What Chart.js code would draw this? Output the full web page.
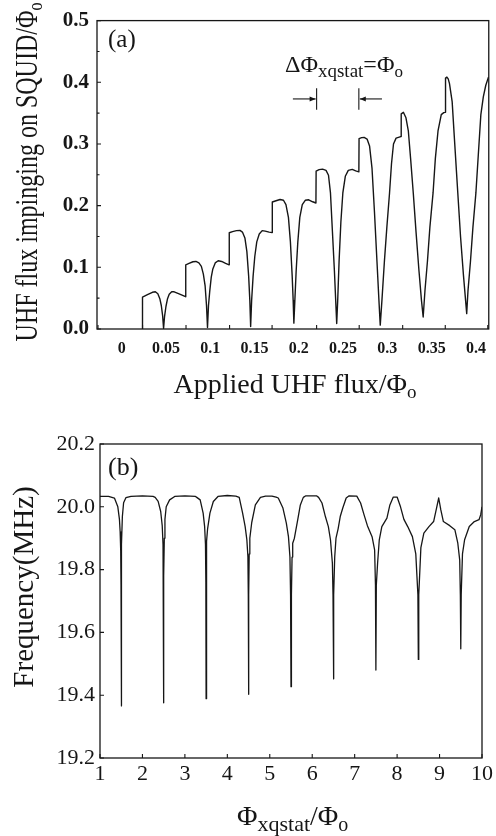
<!DOCTYPE html>
<html><head><meta charset="utf-8">
<script src="https://cdn.jsdelivr.net/npm/chart.js@4.4.1/dist/chart.umd.min.js"></script>
<style>
html,body{margin:0;padding:0;background:#fff;}
#wrap{position:relative;width:496px;height:836px;overflow:hidden;background:#fff;}
canvas{position:absolute;left:0;}
#c1{top:0;} #c2{top:420px;}
</style></head><body>
<div id="wrap"><canvas id="c1" width="496" height="420"></canvas><canvas id="c2" width="496" height="416"></canvas></div>
<script>
// ---------- DATA: panel (a) ----------
const fluxApplied = [
0.02340,0.02346,0.02905,0.03464,0.03799,0.04078,0.04302,0.04469,0.04615,0.04726,
0.04838,0.04994,0.05173,0.05363,0.05642,0.05922,0.06480,0.07207,
0.07229,0.07598,0.08045,0.08380,0.08715,0.08994,0.09218,0.09419,0.09575,0.09687,
0.09799,0.09944,0.10112,0.10279,0.10559,0.10894,0.11285,0.11732,0.12123,
0.12145,0.12514,0.12961,0.13352,0.13631,0.13911,0.14134,0.14335,0.14469,0.14559,
0.14670,0.14838,0.15028,0.15251,0.15531,0.15866,0.16201,0.16648,0.16983,
0.17006,0.17430,0.17877,0.18268,0.18547,0.18827,0.19050,0.19251,0.19363,0.19441,
0.19553,0.19698,0.19888,0.20112,0.20391,0.20726,0.21117,0.21564,0.21933,
0.21955,0.22291,0.22682,0.23073,0.23352,0.23575,0.23799,0.24022,0.24190,0.24279,
0.24391,0.24547,0.24749,0.24972,0.25251,0.25587,0.26034,0.26425,0.26782,
0.26804,0.27095,0.27374,0.27709,0.27989,0.28268,0.28547,0.28827,0.29050,0.29196,
0.29385,0.29665,0.29944,0.30246,0.30469,0.30693,0.30983,0.31430,0.31542,
0.31564,0.31810,0.32101,0.32369,0.32626,0.32927,0.33240,0.33575,0.33855,0.34045,
0.34246,0.34525,0.34804,0.35162,0.35419,0.35721,0.36089,0.36369,0.36536,
0.36570,0.36726,0.36872,0.37017,0.37318,0.37542,0.37955,0.38268,0.38603,0.38961,
0.39106,0.39385,0.39665,0.40000,0.40279,0.40559,0.40838,0.41117,0.41419
];
const fluxImpinging = [
0,0.0516,0.0556,0.0595,0.0603,0.0571,0.0492,0.0381,0.0222,0.0008,
0.0206,0.0365,0.0492,0.0563,0.0603,0.0603,0.0571,0.0524,
0.1040,0.1063,0.1090,0.1095,0.1071,0.1016,0.0889,0.0698,0.0381,0.0024,
0.0381,0.0619,0.0841,0.0968,0.1071,0.1106,0.1095,0.1063,0.1040,
0.1560,0.1579,0.1595,0.1598,0.1571,0.1476,0.1254,0.0857,0.0460,0.0040,
0.0460,0.0857,0.1175,0.1413,0.1540,0.1595,0.1587,0.1571,0.1563,
0.2059,0.2079,0.2100,0.2087,0.2016,0.1810,0.1413,0.0857,0.0460,0.0095,
0.0460,0.0937,0.1413,0.1810,0.2016,0.2087,0.2095,0.2063,0.2043,
0.2560,0.2583,0.2592,0.2571,0.2492,0.2206,0.1571,0.0937,0.0381,0.0090,
0.0460,0.1095,0.1730,0.2206,0.2476,0.2571,0.2587,0.2563,0.2548,
0.3087,0.3103,0.3106,0.3079,0.2968,0.2603,0.1889,0.1095,0.0460,0.0063,
0.0460,0.1095,0.1651,0.2206,0.2683,0.3000,0.3095,0.3116,0.3119,
0.3487,0.3513,0.3424,0.3211,0.2762,0.2206,0.1571,0.0937,0.0460,0.0195,
0.0619,0.1095,0.1651,0.2206,0.2762,0.3211,0.3476,0.3508,0.3513,
0.4068,0.4084,0.4056,0.3979,0.3687,0.3159,0.2206,0.1492,0.0857,0.0249,
0.0619,0.1095,0.1651,0.2206,0.2841,0.3476,0.3762,0.3952,0.4084
];
const topXLabels = [0, 0.05, 0.1, 0.15, 0.2, 0.25, 0.3, 0.35, 0.4];
const topXMarks = [-0.0268, 0.0235, 0.0726, 0.1218, 0.1698, 0.2201, 0.2682, 0.3173, 0.3654, 0.4134];
const topYLabels = [0, 0.1, 0.2, 0.3, 0.4, 0.5];
const topYMinor = [0.05, 0.15, 0.25, 0.35, 0.45];

// ---------- DATA: panel (b) ----------
const phiStat = [
1.00,1.20,1.34,1.42,1.458,1.475,1.488,1.495,1.500,1.505,1.512,1.527,1.556,1.610,1.730,
2.000,2.250,2.300,2.370,2.430,2.466,2.485,2.494,2.500,2.506,2.515,2.530,2.560,2.640,2.760,
3.000,3.250,3.280,3.360,3.430,3.465,3.485,3.494,3.500,3.506,3.515,3.535,3.590,3.670,3.780,
4.000,4.200,4.280,4.360,4.420,4.460,4.485,4.494,4.500,4.506,4.515,4.530,4.575,4.660,4.780,
4.900,5.050,5.150,5.200,5.310,5.390,5.440,5.475,5.490,5.500,5.510,5.525,5.540,5.580,5.660,5.720,5.790,
5.850,6.100,6.150,6.230,6.310,6.380,6.430,6.475,6.490,6.500,6.510,6.530,6.560,6.610,6.660,6.720,6.800,
6.870,7.050,7.140,7.220,7.300,7.410,7.470,7.490,7.500,7.510,7.540,7.580,7.640,7.760,7.830,7.910,
8.000,8.080,8.160,8.250,8.360,8.440,8.490,8.500,8.510,8.560,8.630,8.750,8.860,8.920,8.980,9.030,9.090,
9.240,9.360,9.430,9.475,9.490,9.500,9.510,9.540,9.590,9.700,9.820,9.930,9.970,10.000
];
const frequency = [
20.033,20.033,20.028,20.000,19.960,19.920,19.860,19.750,19.366,19.750,19.880,19.969,20.013,20.029,20.033,
20.035,20.033,20.030,20.017,19.985,19.940,19.880,19.780,19.376,19.780,19.900,19.960,20.000,20.022,20.033,
20.035,20.033,20.030,20.022,19.980,19.937,19.880,19.760,19.389,19.760,19.890,19.930,19.980,20.017,20.033,
20.036,20.034,20.030,19.980,19.937,19.895,19.840,19.720,19.403,19.720,19.850,19.900,19.950,20.006,20.030,
20.034,20.034,20.031,20.028,19.996,19.948,19.905,19.840,19.720,19.427,19.720,19.840,19.884,19.900,19.960,20.006,20.030,
20.035,20.035,20.030,20.012,19.969,19.937,19.895,19.820,19.720,19.452,19.720,19.840,19.900,19.930,19.969,19.996,20.028,
20.035,20.034,20.012,19.975,19.940,19.905,19.863,19.750,19.480,19.750,19.820,19.895,19.937,19.964,20.006,20.031,
20.031,20.000,19.960,19.937,19.905,19.850,19.720,19.514,19.720,19.870,19.916,19.937,19.953,19.990,20.028,19.990,19.953,
19.940,19.927,19.884,19.830,19.720,19.548,19.720,19.850,19.895,19.937,19.953,19.959,19.975,20.000
];
const botXLabels = [1,2,3,4,5,6,7,8,9,10];
const botYLabels = [19.2, 19.4, 19.6, 19.8, 20.0, 20.2];

// ---------- helpers ----------
const SERIF = '"Liberation Serif", "Times New Roman", serif';
const INK = '#161616';

function richText(chart, ctx, t) {
  let x = t.x, y = t.y;
  if (t.data) { x = chart.scales.x.getPixelForValue(t.x); y = chart.scales.y.getPixelForValue(t.y); }
  ctx.save();
  ctx.translate(x, y);
  if (t.rotate) ctx.rotate(t.rotate);
  ctx.scale(t.sx || 1, t.sy || 1);
  let total = 0;
  const fonts = t.runs.map(r => (r.weight || 'normal') + ' ' + r.size + 'px ' + SERIF);
  const widths = t.runs.map((r, i) => { ctx.font = fonts[i]; return ctx.measureText(r.text).width; });
  widths.forEach(w => total += w);
  let cx = t.align === 'center' ? -total / 2 : 0;
  ctx.fillStyle = INK; ctx.textBaseline = 'alphabetic'; ctx.textAlign = 'left';
  t.runs.forEach((r, i) => { ctx.font = fonts[i]; ctx.fillText(r.text, cx, r.dy || 0); cx += widths[i]; });
  ctx.restore();
}

const decor = {
  id: 'decor',
  afterDatasetsDraw(chart, args, o) {
    const ctx = chart.ctx, a = chart.chartArea, sx = chart.scales.x, sy = chart.scales.y;
    ctx.save();
    ctx.strokeStyle = INK; ctx.lineWidth = o.frameWidth;
    ctx.strokeRect(a.left, a.top, a.right - a.left, a.bottom - a.top);
    ctx.lineWidth = 1.1;
    ctx.beginPath();
    (o.xMarks || []).forEach(v => { const p = sx.getPixelForValue(v); ctx.moveTo(p, a.bottom); ctx.lineTo(p, a.bottom - o.majorLen); });
    (o.yMarks || []).forEach(v => { const p = sy.getPixelForValue(v); ctx.moveTo(a.left, p); ctx.lineTo(a.left + o.majorLen, p); });
    (o.yMinor || []).forEach(v => { const p = sy.getPixelForValue(v); ctx.moveTo(a.left, p); ctx.lineTo(a.left + o.minorLen, p); });
    ctx.stroke();
    ctx.fillStyle = INK;
    (o.bars || []).forEach(b => {
      const p = sx.getPixelForValue(b.x);
      ctx.beginPath(); ctx.moveTo(p, sy.getPixelForValue(b.y1)); ctx.lineTo(p, sy.getPixelForValue(b.y2)); ctx.stroke();
    });
    (o.arrows || []).forEach(ar => {
      const x1 = sx.getPixelForValue(ar.x1), x2 = sx.getPixelForValue(ar.x2), py = sy.getPixelForValue(ar.y);
      const dir = Math.sign(x2 - x1);
      ctx.beginPath(); ctx.moveTo(x1, py); ctx.lineTo(x2, py); ctx.stroke();
      ctx.beginPath(); ctx.moveTo(x2, py); ctx.lineTo(x2 - dir * 6, py - 2.5); ctx.lineTo(x2 - dir * 6, py + 2.5); ctx.closePath(); ctx.fill();
    });
    (o.texts || []).forEach(t => richText(chart, ctx, t));
    ctx.restore();
  }
};

function pts(xs, ys) { return xs.map((x, i) => ({ x: x, y: ys[i] })); }

// ---------- panel (a) ----------
new Chart(document.getElementById('c1'), {
  type: 'scatter',
  data: { datasets: [{ data: pts(fluxApplied, fluxImpinging), showLine: true, pointRadius: 0,
    borderColor: INK, borderWidth: 1.4, tension: 0, borderJoinStyle: 'round' }] },
  options: {
    responsive: false, animation: false, devicePixelRatio: 1, events: [],
    layout: { padding: { left: 0, right: 3, top: 14, bottom: 0 } },
    plugins: {
      legend: { display: false }, tooltip: { enabled: false },
      decor: {
        frameWidth: 1.3, majorLen: 4, minorLen: 2.5,
        xMarks: topXMarks, yMarks: topYLabels, yMinor: topYMinor,
        bars: [{ x: 0.2201, y1: 0.3905, y2: 0.3556 }, { x: 0.2678, y1: 0.3905, y2: 0.3556 }],
        arrows: [{ x1: 0.1933, x2: 0.2190, y: 0.3730 }, { x1: 0.2939, x2: 0.2689, y: 0.3730 }],
        texts: [
          { x: 108, y: 47, runs: [{ text: '(a)', size: 25 }] },
          { data: true, x: 0.1844, y: 0.4159, runs: [
            { text: 'ΔΦ', size: 24 }, { text: 'xqstat', size: 19, dy: 5 },
            { text: '=Φ', size: 24 }, { text: 'o', size: 17, dy: 5 }] },
          { x: 295, y: 393, align: 'center', runs: [{ text: 'Applied UHF flux/Φ', size: 28 }, { text: 'o', size: 19, dy: 5 }] },
          { x: 37, y: 172, align: 'center', rotate: -Math.PI / 2, sy: 1.3,
            runs: [{ text: 'UHF flux impinging on SQUID/Φ', size: 24 }, { text: 'o', size: 16, dy: 4 }] }
        ]
      }
    },
    scales: {
      x: {
        type: 'linear', min: -0.02793, max: 0.41453,
        grid: { display: false, drawTicks: false }, border: { display: false },
        afterBuildTicks: s => { s.ticks = topXLabels.map(v => ({ value: v })); },
        afterFit: s => { s.height = 91; },
        ticks: { autoSkip: false, maxRotation: 0, padding: 10, color: INK,
          font: { family: SERIF, size: 16, weight: 'bold' },
          callback: v => String(Number(v.toFixed(2))) }
      },
      y: {
        type: 'linear', min: 0, max: 0.5,
        grid: { display: false, drawTicks: false }, border: { display: false },
        afterBuildTicks: s => { s.ticks = topYLabels.map(v => ({ value: v })); },
        afterFit: s => { s.width = 97; },
        ticks: { autoSkip: false, padding: 8, color: INK,
          font: { family: SERIF, size: 21, weight: 'bold' },
          callback: v => v.toFixed(1) }
      }
    }
  },
  plugins: [decor]
});

// ---------- panel (b) ----------
new Chart(document.getElementById('c2'), {
  type: 'scatter',
  data: { datasets: [{ data: pts(phiStat, frequency), showLine: true, pointRadius: 0,
    borderColor: INK, borderWidth: 1.3, tension: 0, borderJoinStyle: 'round' }] },
  options: {
    responsive: false, animation: false, devicePixelRatio: 1, events: [],
    layout: { padding: { left: 0, right: 3, top: 24, bottom: 0 } },
    plugins: {
      legend: { display: false }, tooltip: { enabled: false },
      decor: {
        frameWidth: 1.3, majorLen: 4, minorLen: 2.5,
        xMarks: botXLabels, yMarks: botYLabels,
        texts: [
          { x: 108, y: 55, runs: [{ text: '(b)', size: 26 }] },
          { x: 237, y: 405, runs: [
            { text: 'Φ', size: 28 }, { text: 'xqstat', size: 22, dy: 6 },
            { text: '/Φ', size: 28 }, { text: 'o', size: 20, dy: 6 }] },
          { x: 33, y: 167, align: 'center', rotate: -Math.PI / 2,
            runs: [{ text: 'Frequency(MHz)', size: 29 }] }
        ]
      }
    },
    scales: {
      x: {
        type: 'linear', min: 1, max: 10,
        grid: { display: false, drawTicks: false }, border: { display: false },
        afterBuildTicks: s => { s.ticks = botXLabels.map(v => ({ value: v })); },
        afterFit: s => { s.height = 78; },
        ticks: { autoSkip: false, maxRotation: 0, padding: 3, color: INK,
          font: { family: SERIF, size: 22 }, callback: v => String(v) }
      },
      y: {
        type: 'linear', min: 19.2, max: 20.2,
        grid: { display: false, drawTicks: false }, border: { display: false },
        afterBuildTicks: s => { s.ticks = botYLabels.map(v => ({ value: v })); },
        afterFit: s => { s.width = 100; },
        ticks: { autoSkip: false, padding: 5, color: INK,
          font: { family: SERIF, size: 22 }, callback: v => v.toFixed(1) }
      }
    }
  },
  plugins: [decor]
});
</script></body></html>
